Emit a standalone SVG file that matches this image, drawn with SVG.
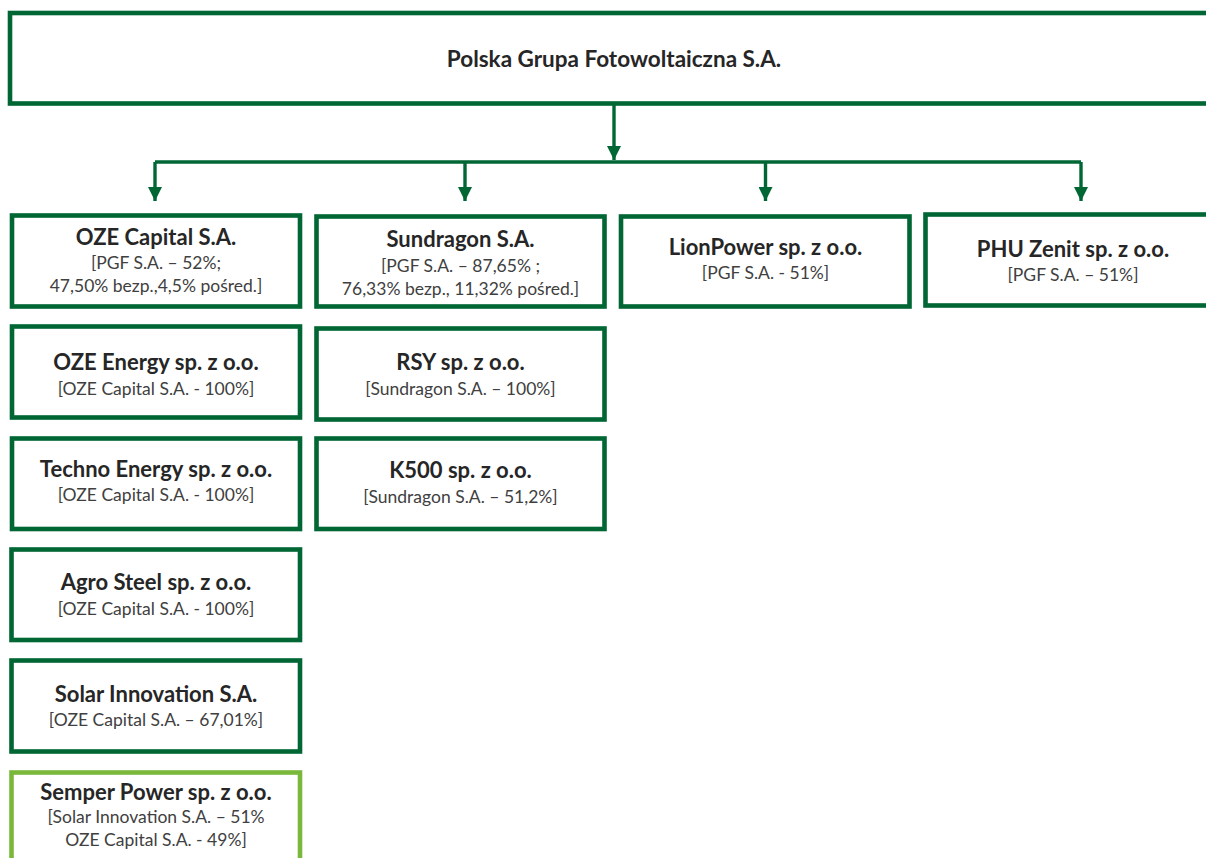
<svg xmlns="http://www.w3.org/2000/svg" width="1206" height="858" viewBox="0 0 1206 858">
<style>
.box{fill:#ffffff;stroke:#006634;stroke-width:4.6}
.box2{fill:#ffffff;stroke:#7ab83c;stroke-width:4.6}
.t{font-family:Lato,"Liberation Sans",sans-serif;font-weight:bold;font-size:22px;fill:#262626;text-anchor:middle}
.m{font-size:22.5px}
.s{font-family:Lato,"Liberation Sans",sans-serif;font-size:17.5px;fill:#404040;text-anchor:middle}
.c{fill:none;stroke:#006634;stroke-width:3.4}
</style>
<defs>
<marker id="ah" markerUnits="userSpaceOnUse" markerWidth="14" markerHeight="14" viewBox="0 0 12 12" refX="12" refY="6" orient="auto">
<path d="M0,0 L12,6 L0,12 Z" fill="#006634"/>
</marker>
</defs>
<rect width="1206" height="858" fill="#ffffff"/>
<g id="connectors">
<path class="c" d="M614 104 V160" marker-end="url(#ah)"/>
<path class="c" d="M155 162 H1081"/>
<path class="c" d="M155 162 V201" marker-end="url(#ah)"/>
<path class="c" d="M465 162 V201" marker-end="url(#ah)"/>
<path class="c" d="M765.5 162 V201" marker-end="url(#ah)"/>
<path class="c" d="M1081 162 V201" marker-end="url(#ah)"/>
</g>
<g id="pgf">
<rect class="box" x="10" y="13" width="1220" height="90.5"/>
<text class="t m" x="614" y="67">Polska Grupa Fotowoltaiczna S.A.</text>
</g>
<g id="oze-capital">
<rect class="box" x="12" y="215.5" width="288" height="91"/>
<text class="t" x="156" y="245">OZE Capital S.A.</text>
<text class="s" x="156" y="269">[PGF S.A. – 52%;</text>
<text class="s" x="156" y="292">47,50% bezp.,4,5% pośred.]</text>
</g>
<g id="sundragon">
<rect class="box" x="316.5" y="216.5" width="288" height="90"/>
<text class="t" x="460.5" y="247">Sundragon S.A.</text>
<text class="s" x="460.5" y="272">[PGF S.A. – 87,65% ;</text>
<text class="s" x="460.5" y="295">76,33% bezp., 11,32% pośred.]</text>
</g>
<g id="lionpower">
<rect class="box" x="621" y="216.5" width="288.5" height="90"/>
<text class="t" x="765.5" y="255">LionPower sp. z o.o.</text>
<text class="s" x="765.5" y="279">[PGF S.A. - 51%]</text>
</g>
<g id="phu-zenit">
<rect class="box" x="925.5" y="214.5" width="300" height="91"/>
<text class="t" x="1073" y="257">PHU Zenit sp. z o.o.</text>
<text class="s" x="1073" y="281">[PGF S.A. – 51%]</text>
</g>
<g id="oze-energy">
<rect class="box" x="12" y="326.5" width="288" height="91"/>
<text class="t" x="156" y="370">OZE Energy sp. z o.o.</text>
<text class="s" x="156" y="395">[OZE Capital S.A. - 100%]</text>
</g>
<g id="rsy">
<rect class="box" x="316.5" y="328.5" width="288" height="91"/>
<text class="t" x="460.5" y="370">RSY sp. z o.o.</text>
<text class="s" x="460.5" y="395">[Sundragon S.A. – 100%]</text>
</g>
<g id="techno-energy">
<rect class="box" x="12" y="438.5" width="288" height="90.5"/>
<text class="t" x="156" y="477">Techno Energy sp. z o.o.</text>
<text class="s" x="156" y="501">[OZE Capital S.A. - 100%]</text>
</g>
<g id="k500">
<rect class="box" x="316.5" y="438.5" width="288" height="90.5"/>
<text class="t" x="460.5" y="478">K500 sp. z o.o.</text>
<text class="s" x="460.5" y="503">[Sundragon S.A. – 51,2%]</text>
</g>
<g id="agro-steel">
<rect class="box" x="11.5" y="549.5" width="288.5" height="90.5"/>
<text class="t" x="156" y="590">Agro Steel sp. z o.o.</text>
<text class="s" x="156" y="615">[OZE Capital S.A. - 100%]</text>
</g>
<g id="solar-innovation">
<rect class="box" x="11.5" y="660.5" width="288.5" height="91"/>
<text class="t" x="156" y="702">Solar Innovation S.A.</text>
<text class="s" x="156" y="726">[OZE Capital S.A. – 67,01%]</text>
</g>
<g id="semper-power">
<rect class="box2" x="11.5" y="772.5" width="288.5" height="100"/>
<text class="t" x="156" y="800">Semper Power sp. z o.o.</text>
<text class="s" x="156" y="823">[Solar Innovation S.A. – 51%</text>
<text class="s" x="156" y="846">OZE Capital S.A. - 49%]</text>
</g>
</svg>
